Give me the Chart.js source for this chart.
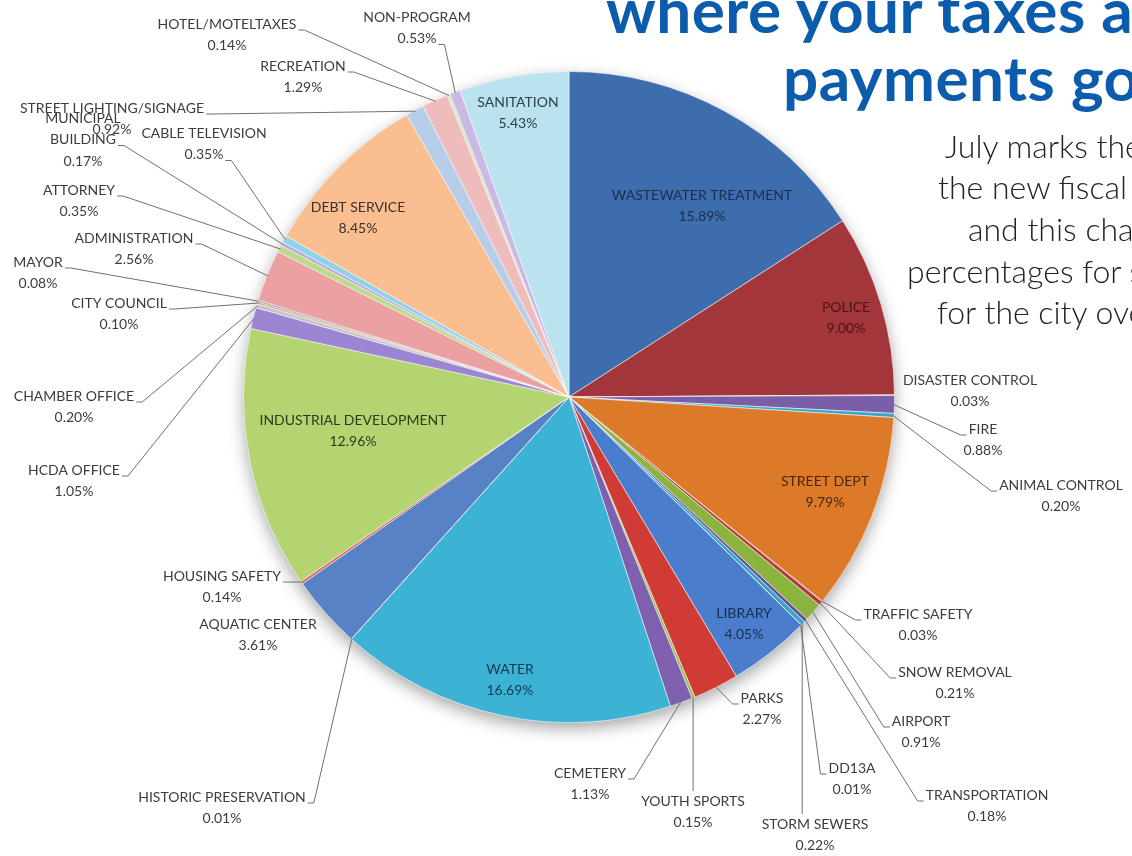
<!DOCTYPE html>
<html>
<head>
<meta charset="utf-8">
<script src="https://cdn.jsdelivr.net/npm/chart.js@4.4.1/dist/chart.umd.min.js"></script>
<style>
  html, body { margin: 0; padding: 0; background: #fff; overflow: hidden; }
  #wrap { position: relative; width: 1132px; height: 856px; overflow: hidden; }
  canvas { position: absolute; left: 0; top: 0; }
  .title { position: absolute; white-space: nowrap; font-family: Lato, "Open Sans", sans-serif; font-weight: 700; font-size: 62px; color: #0b5cad; line-height: 62px; letter-spacing: 0.5px; }
  .blurb { position: absolute; white-space: nowrap; font-family: Lato, sans-serif; font-weight: 300; font-size: 32px; color: #222; line-height: 32px; }
</style>
</head>
<body>
<div id="wrap">
  <canvas id="pie" width="1132" height="856"></canvas>
  <div class="title" style="left:606px; top:-22px;">where your taxes and</div>
  <div class="title" style="left:783px; top:46px;">payments go?</div>
  <div class="blurb" style="left:945px; top:130px;">July marks the start of</div>
  <div class="blurb" style="left:938px; top:171px;">the new fiscal year</div>
  <div class="blurb" style="left:968px; top:213px;">and this chart</div>
  <div class="blurb" style="left:907px; top:255px;">percentages for spending</div>
  <div class="blurb" style="left:937px; top:296px;">for the city overall</div>
</div>
<script>
// Datos del gráfico (orden de las rebanadas, en sentido horario desde arriba)
const categories = [
  "WASTEWATER TREATMENT", "POLICE", "DISASTER CONTROL", "FIRE", "ANIMAL CONTROL",
  "STREET DEPT", "TRAFFIC SAFETY", "SNOW REMOVAL", "AIRPORT", "TRANSPORTATION",
  "STORM SEWERS", "DD13A", "LIBRARY", "PARKS", "YOUTH SPORTS", "CEMETERY", "WATER",
  "HISTORIC PRESERVATION", "AQUATIC CENTER", "HOUSING SAFETY", "INDUSTRIAL DEVELOPMENT",
  "HCDA OFFICE", "CHAMBER OFFICE", "CITY COUNCIL", "MAYOR", "ADMINISTRATION", "ATTORNEY",
  "MUNICIPAL BUILDING", "CABLE TELEVISION", "DEBT SERVICE", "STREET LIGHTING/SIGNAGE",
  "RECREATION", "HOTEL/MOTELTAXES", "NON-PROGRAM", "SANITATION"
]
const percents = [
  15.89, 9.00, 0.03, 0.88, 0.20,
  9.79, 0.03, 0.21, 0.91, 0.18,
  0.22, 0.01, 4.05, 2.27, 0.15, 1.13, 16.69,
  0.01, 3.61, 0.14, 12.96,
  1.05, 0.20, 0.10, 0.08, 2.56, 0.35,
  0.17, 0.35, 8.45, 0.92,
  1.29, 0.14, 0.53, 5.43
]
const sliceColors = [
  "#3e6dae", "#a2363a", "#6f9a3a", "#7a5ea8", "#3aa6c8",
  "#dc7a2a", "#2e5e9e", "#b83a36", "#8ab43e", "#6b4f97",
  "#35a5c8", "#e08a3a", "#4a7dcb", "#d03b35", "#9ebf57", "#7e60ae", "#3cb2d5",
  "#e8963e", "#5782c6", "#d86a66", "#b3d470",
  "#9c86d4", "#c3c3cb", "#f0a060", "#6d93d4", "#eba0a2", "#bcd98c",
  "#b7a8dc", "#92d2e8", "#fbbe90", "#b8cde9",
  "#efbcbc", "#d6e4b8", "#cab9e4", "#bae2ef"
]

// Posición de las etiquetas (centro de la primera línea) y tipo de guía
const labelLayout = {
  "WASTEWATER TREATMENT": { x: 702, y: 195, color: "#1c2e4e" },
  "POLICE": { x: 846, y: 307, color: "#4a1414" },
  "DISASTER CONTROL": { x: 970, y: 380 },
  "FIRE": { x: 983, y: 429, hook: "l" },
  "ANIMAL CONTROL": { x: 1061, y: 485, hook: "l" },
  "STREET DEPT": { x: 825, y: 481, color: "#4a2608" },
  "TRAFFIC SAFETY": { x: 918, y: 614, hook: "l" },
  "SNOW REMOVAL": { x: 955, y: 672, hook: "l" },
  "AIRPORT": { x: 921, y: 721, hook: "l" },
  "TRANSPORTATION": { x: 987, y: 795, hook: "l" },
  "STORM SEWERS": { x: 815, y: 824, hook: "top" },
  "DD13A": { x: 852, y: 768, hook: "l" },
  "LIBRARY": { x: 744, y: 613, color: "#1c2e4e" },
  "PARKS": { x: 762, y: 698, hook: "l" },
  "YOUTH SPORTS": { x: 693, y: 801, hook: "top" },
  "CEMETERY": { x: 590, y: 773, hook: "r" },
  "WATER": { x: 510, y: 669, color: "#163a50" },
  "HISTORIC PRESERVATION": { x: 222, y: 797, hook: "r" },
  "AQUATIC CENTER": { x: 258, y: 624 },
  "HOUSING SAFETY": { x: 222, y: 576, hook: "r" },
  "INDUSTRIAL DEVELOPMENT": { x: 353, y: 420, color: "#2e3a1c" },
  "HCDA OFFICE": { x: 74, y: 470, hook: "r" },
  "CHAMBER OFFICE": { x: 74, y: 396, hook: "r" },
  "CITY COUNCIL": { x: 119, y: 303, hook: "r" },
  "MAYOR": { x: 38, y: 262, hook: "r" },
  "ADMINISTRATION": { x: 134, y: 238, hook: "r" },
  "ATTORNEY": { x: 79, y: 190, hook: "r" },
  "MUNICIPAL BUILDING": { x: 83, y: 118, hook: "r", hookLine: 1, wrap: ["MUNICIPAL", "BUILDING"] },
  "CABLE TELEVISION": { x: 204, y: 133, hook: "r", hookLine: 1 },
  "DEBT SERVICE": { x: 358, y: 207, color: "#3a3030" },
  "STREET LIGHTING/SIGNAGE": { x: 112, y: 108, hook: "r" },
  "RECREATION": { x: 303, y: 66, hook: "r" },
  "HOTEL/MOTELTAXES": { x: 227, y: 24, hook: "r" },
  "NON-PROGRAM": { x: 417, y: 17, hook: "r", hookLine: 1 },
  "SANITATION": { x: 518, y: 102, color: "#2c4352" }
}

const LINE_H = 21.5

// Sombra suave debajo del pastel
const pieShadow = {
  id: "pieShadow",
  beforeDatasetsDraw(chart) {
    const arc = chart.getDatasetMeta(0).data[0]
    if (!arc) return
    const { x, y, outerRadius } = arc.getProps(["x", "y", "outerRadius"], true)
    const ctx = chart.ctx
    ctx.save()
    ctx.beginPath()
    ctx.arc(x, y, outerRadius, 0, Math.PI * 2)
    ctx.shadowColor = "rgba(0,0,0,0.35)"
    ctx.shadowBlur = 16
    ctx.shadowOffsetY = 6
    ctx.fillStyle = "#ccc"
    ctx.fill()
    ctx.restore()
  }
}

// Etiquetas con líneas guía
const calloutLabels = {
  id: "calloutLabels",
  afterDatasetsDraw(chart) {
    const ctx = chart.ctx
    const meta = chart.getDatasetMeta(0)
    ctx.save()
    ctx.font = "14px Lato, 'Open Sans', sans-serif"
    ctx.textAlign = "center"
    ctx.textBaseline = "middle"
    meta.data.forEach((arc, i) => {
      const pos = labelLayout[categories[i]]
      if (!pos) return
      const lines = (pos.wrap || [categories[i]]).concat([percents[i].toFixed(2) + "%"])

      if (pos.hook) {
        const { x, y, startAngle, endAngle, outerRadius } =
          arc.getProps(["x", "y", "startAngle", "endAngle", "outerRadius"], true)
        const mid = (startAngle + endAngle) / 2
        const px = x + Math.cos(mid) * (outerRadius - 1)
        const py = y + Math.sin(mid) * (outerRadius - 1)
        const k = pos.hookLine || 0
        const w = ctx.measureText(lines[k]).width
        const ly = pos.y + k * LINE_H + 6
        ctx.strokeStyle = "#707070"
        ctx.lineWidth = 1
        ctx.beginPath()
        if (pos.hook === "top") {
          ctx.moveTo(px, pos.y - 10)
        } else {
          const dir = pos.hook === "r" ? 1 : -1
          const hx = pos.x + dir * (w / 2 + 2)
          ctx.moveTo(hx, ly)
          ctx.lineTo(hx + dir * 6, ly)
        }
        ctx.lineTo(px, py)
        ctx.stroke()
      }

      ctx.fillStyle = pos.color || "#3c3c3c"
      lines.forEach((t, k) => ctx.fillText(t, pos.x, pos.y + k * LINE_H))
    })
    ctx.restore()
  }
}

new Chart(document.getElementById("pie"), {
  type: "pie",
  data: {
    labels: categories,
    datasets: [{
      data: percents,
      backgroundColor: sliceColors,
      borderColor: "rgba(255,255,255,0.55)",
      borderWidth: 1
    }]
  },
  options: {
    responsive: false,
    animation: false,
    layout: { padding: { left: 243, right: 237, top: 71, bottom: 133 } },
    plugins: {
      legend: { display: false },
      tooltip: { enabled: false }
    }
  },
  plugins: [pieShadow, calloutLabels]
})
</script>
</body>
</html>
